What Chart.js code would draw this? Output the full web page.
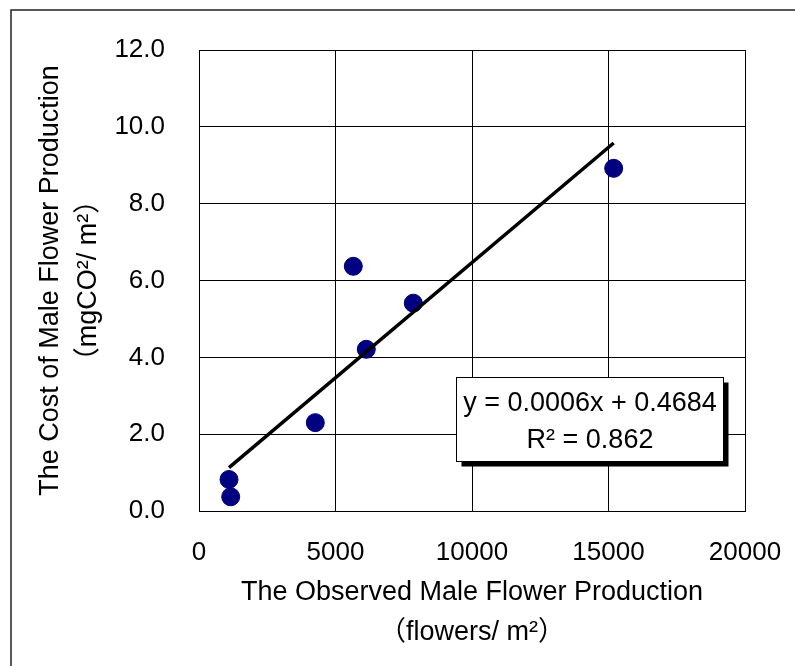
<!DOCTYPE html>
<html>
<head>
<meta charset="utf-8">
<script src="https://cdn.jsdelivr.net/npm/chart.js@4.4.1/dist/chart.umd.min.js"></script>
<style>
  html, body { margin: 0; padding: 0; background: #fff; }
  #wrap { width: 795px; height: 666px; }
</style>
</head>
<body>
<div id="wrap"><canvas id="chart"></canvas></div>
<script>
const flowers = [1099, 1161, 4260, 5652, 6128, 7850, 15190];
const cost = [0.82, 0.37, 2.30, 6.37, 4.21, 5.41, 8.92];

// linear trendline end points (y = 0.0006x + 0.4684)
const trendX = [1099, 15190];
const trendY = [1.13, 9.58];

const xTicks = [0, 5000, 10000, 15000, 20000];
const yTicks = [0, 2, 4, 6, 8, 10, 12];

const equationLines = ["y = 0.0006x + 0.4684", "R² = 0.862"];
// equation box corners in data units
const boxX = [9414, 19194];
const boxY = [3.49, 1.30];

const FONT = "'Liberation Sans', Arial, 'Noto Sans CJK JP', sans-serif";

Chart.defaults.color = "#000";
Chart.defaults.font.family = FONT;

// outer frame + regression equation box
const extras = {
    id: "extras",
    beforeDraw(chart) {
        const ctx = chart.ctx;
        ctx.save();
        ctx.fillStyle = "#fff";
        ctx.fillRect(0, 0, chart.width, chart.height);
        ctx.strokeStyle = "#222";
        ctx.lineWidth = 1.5;
        ctx.strokeRect(11, 10, chart.width + 20, chart.height + 20);
        ctx.restore();
    },
    afterDatasetsDraw(chart) {
        const ctx = chart.ctx;
        const xs = chart.scales.x;
        const ys = chart.scales.y;
        const l = Math.round(xs.getPixelForValue(boxX[0])) + 0.5;
        const r = Math.round(xs.getPixelForValue(boxX[1])) + 0.5;
        const t = Math.round(ys.getPixelForValue(boxY[0])) + 0.5;
        const b = Math.round(ys.getPixelForValue(boxY[1])) + 0.5;
        ctx.save();
        ctx.fillStyle = "#000";
        ctx.fillRect(l + 5, t + 5, r - l, b - t);
        ctx.fillStyle = "#fff";
        ctx.fillRect(l, t, r - l, b - t);
        ctx.strokeStyle = "#000";
        ctx.lineWidth = 1;
        ctx.strokeRect(l, t, r - l, b - t);
        ctx.fillStyle = "#000";
        ctx.font = "27px " + FONT;
        ctx.textAlign = "center";
        ctx.textBaseline = "middle";
        const cx = (l + r) / 2;
        ctx.fillText(equationLines[0], cx, t + 26);
        ctx.fillText(equationLines[1], cx, t + 63);
        ctx.restore();
    }
};

new Chart(document.getElementById("chart"), {
    type: "scatter",
    data: {
        datasets: [
            {
                label: "trend",
                type: "line",
                data: trendX.map((x, i) => ({x: x, y: trendY[i]})),
                borderColor: "#000",
                borderWidth: 3.5,
                pointRadius: 0,
                fill: false,
            },
            {
                label: "observed",
                data: flowers.map((x, i) => ({x: x, y: cost[i]})),
                backgroundColor: "#000080",
                borderColor: "#000080",
                pointRadius: 9,
                pointHoverRadius: 9,
            },
        ],
    },
    options: {
        responsive: true,
        maintainAspectRatio: false,
        animation: false,
        layout: {padding: {left: 0, top: 50, right: 50, bottom: 0}},
        plugins: {
            legend: {display: false},
            tooltip: {enabled: false},
        },
        scales: {
            x: {
                type: "linear",
                min: xTicks[0],
                max: xTicks[xTicks.length - 1],
                afterBuildTicks(scale) {
                    scale.ticks = xTicks.map(v => ({value: v}));
                },
                afterFit(scale) { scale.height = 155; },
                grid: {
                    color: "#000", lineWidth: 1,
                    drawTicks: true, tickLength: 26, tickColor: "rgba(0,0,0,0)",
                },
                border: {color: "#000", width: 1},
                ticks: {
                    padding: 0,
                    font: {size: 26},
                    maxRotation: 0,
                    callback: v => String(v),
                },
                title: {
                    display: true,
                    text: ["The Observed Male Flower Production", "（flowers/ m²）"],
                    font: {size: 27, lineHeight: "40px"},
                    padding: {top: 0, bottom: 13},
                },
            },
            y: {
                type: "linear",
                min: yTicks[0],
                max: yTicks[yTicks.length - 1],
                afterBuildTicks(scale) {
                    scale.ticks = yTicks.map(v => ({value: v}));
                },
                afterFit(scale) { scale.width = 199; },
                grid: {color: "#000", lineWidth: 1, drawTicks: false},
                border: {color: "#000", width: 1},
                ticks: {
                    padding: 34,
                    font: {size: 26},
                    callback: v => v.toFixed(1),
                },
                title: {
                    display: true,
                    text: ["The Cost of Male Flower Production", "（mgCO²/ m²）"],
                    font: {size: 27, lineHeight: "38px"},
                    padding: {top: 32, bottom: 0},
                },
            },
        },
    },
    plugins: [extras],
});
</script>
</body>
</html>
